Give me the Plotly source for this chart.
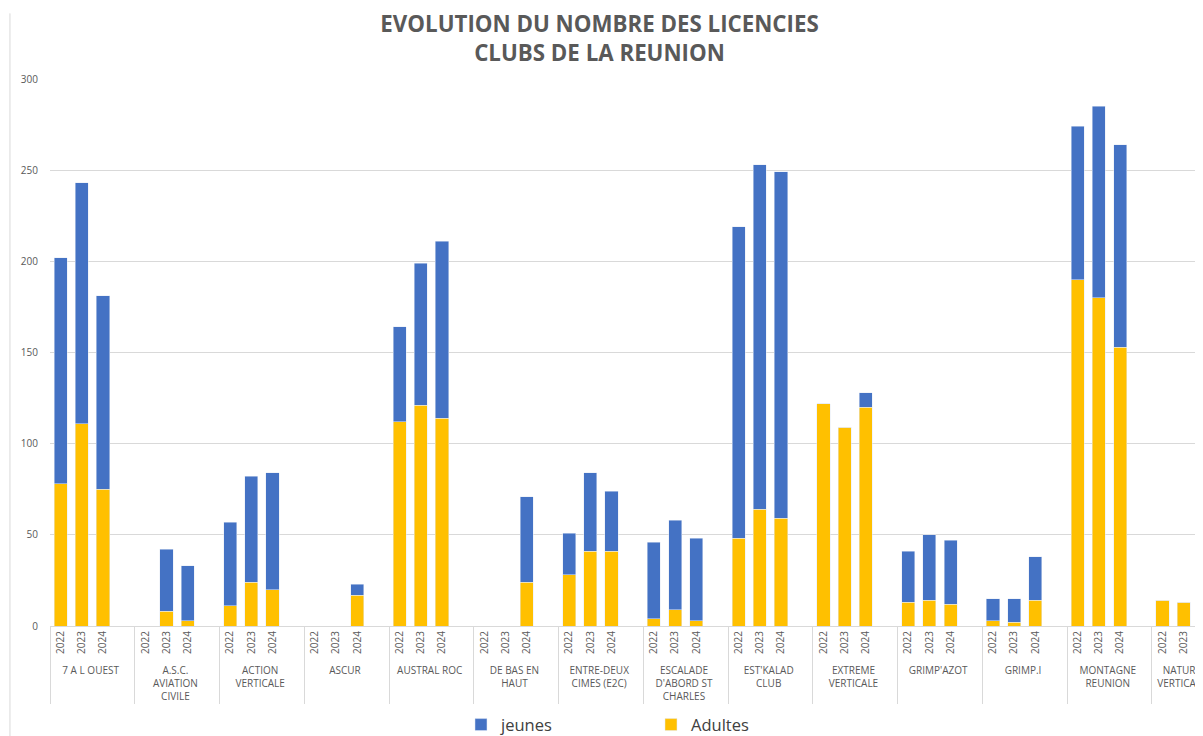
import plotly.graph_objects as go

# licences par club et par annee
clubs = [
    "7 A L OUEST", "A.S.C.<br>AVIATION<br>CIVILE", "ACTION<br>VERTICALE", "ASCUR",
    "AUSTRAL ROC", "DE BAS EN<br>HAUT", "ENTRE-DEUX<br>CIMES (E2C)",
    "ESCALADE<br>D'ABORD ST<br>CHARLES", "EST'KALAD<br>CLUB", "EXTREME<br>VERTICALE",
    "GRIMP'AZOT", "GRIMP.I", "MONTAGNE<br>REUNION", "NATURE<br>VERTICALE",
]
annees = ["2022", "2023", "2024"]

adultes = [
    [78, 111, 75], [0, 8, 3], [11, 24, 20], [0, 0, 17], [112, 121, 114],
    [0, 0, 24], [28, 41, 41], [4, 9, 3], [48, 64, 59], [122, 109, 120],
    [13, 14, 12], [3, 2, 14], [190, 180, 153], [14, 13, 10],
]
jeunes = [
    [124, 132, 106], [0, 34, 30], [46, 58, 64], [0, 0, 6], [52, 78, 97],
    [0, 0, 47], [23, 43, 33], [42, 49, 45], [171, 189, 190], [0, 0, 8],
    [28, 36, 35], [12, 13, 24], [84, 105, 111], [0, 0, 0],
]

# chaque club a une case vide apres 2024 (comme dans Excel)
x_club, x_annee, y_ad, y_je = [], [], [], []
for i, c in enumerate(clubs):
    for j, a in enumerate(annees + [" "]):
        x_club.append(c)
        x_annee.append(a)
        if j < 3:
            y_ad.append(adultes[i][j])
            y_je.append(jeunes[i][j])
        else:
            y_ad.append(None)
            y_je.append(None)

fig = go.Figure()
fig.add_trace(go.Bar(x=[x_club, x_annee], y=y_ad, name="Adultes", marker_color="#FFC000"))
fig.add_trace(go.Bar(x=[x_club, x_annee], y=y_je, name="jeunes", marker_color="#4472C4"))

fig.update_layout(
    barmode="stack",
    bargap=0.38,
    width=1203, height=736,
    margin=dict(l=42, r=0, t=71, b=118),
    plot_bgcolor="white", paper_bgcolor="white",
    font=dict(family="Open Sans", color="#595959"),
    title=dict(
        text="EVOLUTION DU NOMBRE DES LICENCIES<br>CLUBS DE LA REUNION",
        x=0.4917, xanchor="center", yref="container", y=0.967, yanchor="middle",
        font=dict(size=22.3, color="#595959", family="Open Sans", weight="bold"),
    ),
    legend=dict(
        orientation="h", traceorder="reversed",
        x=0.354, xanchor="left", yref="container", y=0.026, yanchor="middle",
        font=dict(size=16.5, color="#404040"),
        entrywidth=145, entrywidthmode="pixels",
    ),
    xaxis=dict(
        type="multicategory",
        range=[-0.5, 54.29],
        tickangle=-90,
        tickfont=dict(size=10, color="#595959"),
        showline=True, linecolor="#d9d9d9",
        showdividers=True, dividercolor="#d9d9d9", dividerwidth=1,
        automargin=False,
    ),
    yaxis=dict(
        range=[0, 300], dtick=50,
        gridcolor="#d9d9d9", zeroline=False,
        tickfont=dict(size=10, color="#595959"),
        ticklabelstandoff=11,
        automargin=False,
    ),
)

# bord gauche de la zone graphique
fig.add_shape(type="line", xref="paper", yref="paper",
              x0=-0.0345, x1=-0.0345, y0=1.12, y1=-0.23,
              line=dict(color="#d9d9d9", width=1))

fig.write_html("out.html")
